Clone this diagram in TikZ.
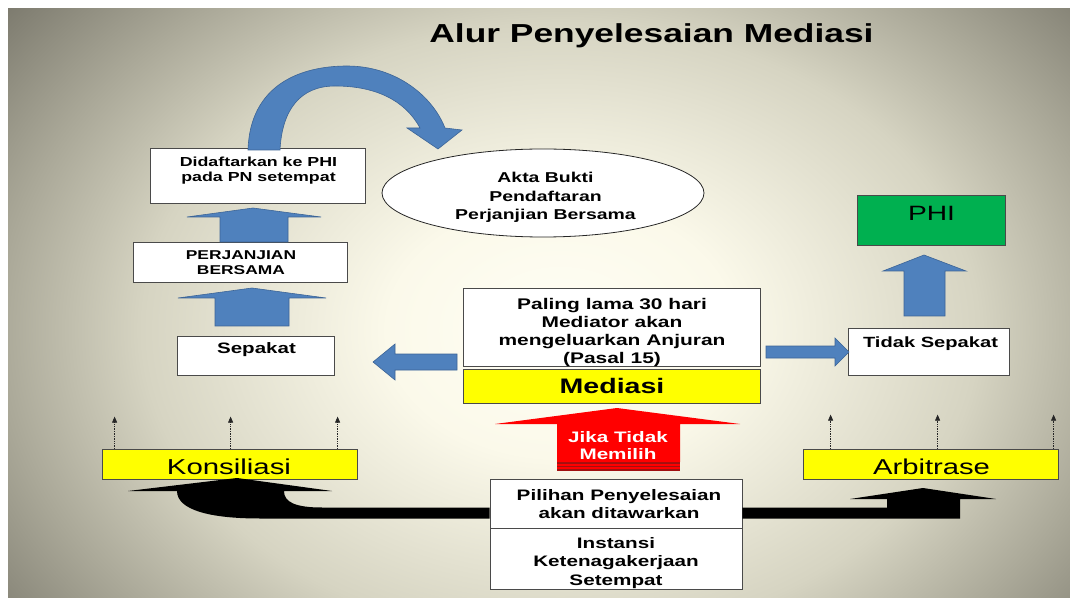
\documentclass[tikz,border=0pt]{standalone}
\usepackage{fontspec}
\setmainfont{Liberation Sans}[FakeStretch=1.36]
\usetikzlibrary{arrows.meta,calc,shapes.geometric}
\definecolor{ablue}{HTML}{4F81BD}
\definecolor{ablueline}{HTML}{3C6496}
\definecolor{byellow}{HTML}{FFFF00}
\definecolor{bgreen}{HTML}{00B050}
\definecolor{bred}{HTML}{FF0000}
\definecolor{bdred}{HTML}{A01010}
\definecolor{boxline}{HTML}{4A4A4A}
\definecolor{bgA}{HTML}{FFFEF5}
\definecolor{bgB}{HTML}{FBF9EA}
\definecolor{bgC}{HTML}{D6D4C2}
\definecolor{bgD}{HTML}{AAA898}
\definecolor{bgE}{HTML}{78766A}
\pgfdeclareradialshading{slidebg}{\pgfpoint{0bp}{0bp}}{color(0bp)=(bgA); color(6bp)=(bgB); color(14.5bp)=(bgC); color(19.5bp)=(bgD); color(25bp)=(bgE); color(50bp)=(bgE)}
\newcommand{\ml}[1]{\begin{tabular}[t]{@{}c@{}}#1\end{tabular}}
\tikzset{
  wbox/.style={draw=boxline, fill=white, line width=0.8pt, inner sep=0pt},
  ybox/.style={draw=boxline, fill=byellow, line width=0.8pt, inner sep=0pt},
  gbox/.style={draw=boxline, fill=bgreen, line width=0.8pt, inner sep=0pt},
  txt/.style={inner sep=0pt, anchor=base},
  blk/.style={fill=ablue, draw=ablueline, line width=0.6pt},
  blackarrow/.style={fill=black},
  redarrow/.style={fill=bred},
  dotarrow/.style={densely dotted, line width=0.7pt, draw=black!85, -{Triangle[length=6pt,width=5pt]}}
}
\begin{document}
\begin{tikzpicture}[x=1pt,y=-1pt]
\useasboundingbox (0,0) rectangle (1070,601);
\fill[white] (0,0) rectangle (1070,601);
\begin{scope}
  \clip (8,9) rectangle (1070,597);
  \shade[shading=slidebg] (560,330) ellipse [x radius=721, y radius=530];
\end{scope}

% title
\node[txt, font=\fontsize{26}{30}\selectfont\bfseries] (title) at (651.5,43) {Alur Penyelesaian Mediasi};

% boxes
\node[wbox, minimum width=215, minimum height=55] (didaf) at (257.5,175.5) {};
\node[wbox, minimum width=214, minimum height=40] (perj) at (240,262) {};
\node[wbox, minimum width=157, minimum height=39] (sep) at (255.5,355.5) {};
\node[wbox, minimum width=297, minimum height=78] (paling) at (611.5,327) {};
\node[ybox, minimum width=297, minimum height=34] (med) at (611.5,386) {};
\node[wbox, minimum width=161, minimum height=47] (tidak) at (928.5,351.5) {};
\node[gbox, minimum width=148, minimum height=50] (phi) at (931,220) {};
\node[ellipse, draw=black!85, fill=white, line width=0.8pt, inner sep=0pt, minimum width=322, minimum height=88] (akta) at (543,193) {};
\node[wbox, minimum width=252, minimum height=49] (pil) at (616,503.5) {};
\node[wbox, minimum width=252, minimum height=61] (inst) at (616,558.5) {};
\node[ybox, minimum width=255, minimum height=30] (kons) at (229.5,464) {};
\node[ybox, minimum width=255, minimum height=30] (arb) at (930.5,464) {};

% texts
\node[txt, font=\fontsize{13.1}{14.5}\selectfont\bfseries] (didaft) at (258.5,167) {\ml{Didaftarkan ke PHI\\pada PN setempat}};
\node[txt, font=\fontsize{12.8}{15}\selectfont\bfseries] (perjt) at (241,260) {\ml{PERJANJIAN\\BERSAMA}};
\node[txt, font=\fontsize{15.1}{18}\selectfont\bfseries] (sept) at (256.5,353) {Sepakat};
\node[txt, font=\fontsize{14.3}{18.5}\selectfont\bfseries] (aktat) at (545.5,183) {\ml{Akta Bukti\\Pendaftaran\\Perjanjian Bersama}};
\node[txt, font=\fontsize{15.4}{18.3}\selectfont\bfseries] (palingt) at (612,309) {\ml{Paling lama 30 hari\\Mediator akan\\mengeluarkan Anjuran\\(Pasal 15)}};
\node[txt, font=\fontsize{21}{24}\selectfont\bfseries] (medt) at (612,393.5) {Mediasi};
\node[txt, font=\fontsize{14.8}{18}\selectfont\bfseries] (tidakt) at (930.5,348) {Tidak Sepakat};
\node[txt, font=\fontsize{20.7}{24}\selectfont] (phit) at (931.5,221) {PHI};
\node[txt, font=\fontsize{21.6}{24}\selectfont] (konst) at (229,474) {Konsiliasi};
\node[txt, font=\fontsize{21.5}{24}\selectfont] (arbt) at (931.5,474) {Arbitrase};
\node[txt, font=\fontsize{15.2}{18}\selectfont\bfseries] (pilt) at (619,500) {\ml{Pilihan Penyelesaian\\akan ditawarkan}};
\node[txt, font=\fontsize{15.2}{18.5}\selectfont\bfseries] (instt) at (616,548) {\ml{Instansi\\Ketenagakerjaan\\Setempat}};

% curved blue arrow
\draw[blk] (248,150) .. controls (250,85) and (300,66) .. (347,66)
  .. controls (395,66) and (432,95) .. (445,128)
  -- (462,130) -- (438,149) -- (407,128) -- (420,128)
  .. controls (405,100) and (375,86) .. (335,86)
  .. controls (300,86) and (282,110) .. (280,150) -- cycle;

% straight blue block arrows
\draw[blk] (220,242) -- (220,217) -- (187,217) -- (253,208) -- (321,217) -- (288,217) -- (288,242) -- cycle;
\draw[blk] (215,326) -- (215,298) -- (178,298) -- (252,288) -- (326,298) -- (289,298) -- (289,326) -- cycle;
\draw[blk] (904,316) -- (904,271) -- (883,271) -- (924,255) -- (966,271) -- (945,271) -- (945,316) -- cycle;
\draw[blk] (457,354) -- (395,354) -- (395,344) -- (373,362) -- (395,380) -- (395,370) -- (457,370) -- cycle;
\draw[blk] (766,346) -- (835,346) -- (835,338) -- (849,352) -- (835,366) -- (835,358) -- (766,358) -- cycle;

% red arrow
\fill[bdred] (557,461) rectangle (680,471);
\fill[redarrow] (557,462) -- (557,424) -- (495,424) -- (617,408) -- (740,424) -- (680,424) -- (680,462) -- cycle;
\fill[bred] (557,464) rectangle (680,465.6);
\fill[bred] (557,467) rectangle (680,468.6);
\node[txt, text=white, font=\fontsize{15.2}{17}\selectfont\bfseries] (jikat) at (618,442) {\ml{Jika Tidak\\Memilih}};

% black arrows
\fill[blackarrow] (pil.west |- 0,507.5) -- (322,507.5) .. controls (295,507.5) and (284,502) .. (284,491)
  -- (332,491) -- (237,478) -- (128,491) -- (177,491)
  .. controls (177,510) and (210,518.5) .. (260,518.5) -- (pil.west |- 0,518.5) -- cycle;
\fill[blackarrow] (pil.east |- 0,507.5) -- (887,507.5) -- (887,499) -- (850,499) -- (923,488) -- (996,499)
  -- (960,499) -- (960,518.5) -- (pil.east |- 0,518.5) -- cycle;

% dotted arrows
\draw[dotarrow] ([xshift=13pt]kons.north west) -- ++(0,-32);
\draw[dotarrow] ([xshift=129pt]kons.north west) -- ++(0,-32);
\draw[dotarrow] ([xshift=236pt]kons.north west) -- ++(0,-32);
\draw[dotarrow] ([xshift=28pt]arb.north west) -- ++(0,-34);
\draw[dotarrow] ([xshift=135pt]arb.north west) -- ++(0,-34);
\draw[dotarrow] ([xshift=251pt]arb.north west) -- ++(0,-34);
\end{tikzpicture}
\end{document}
